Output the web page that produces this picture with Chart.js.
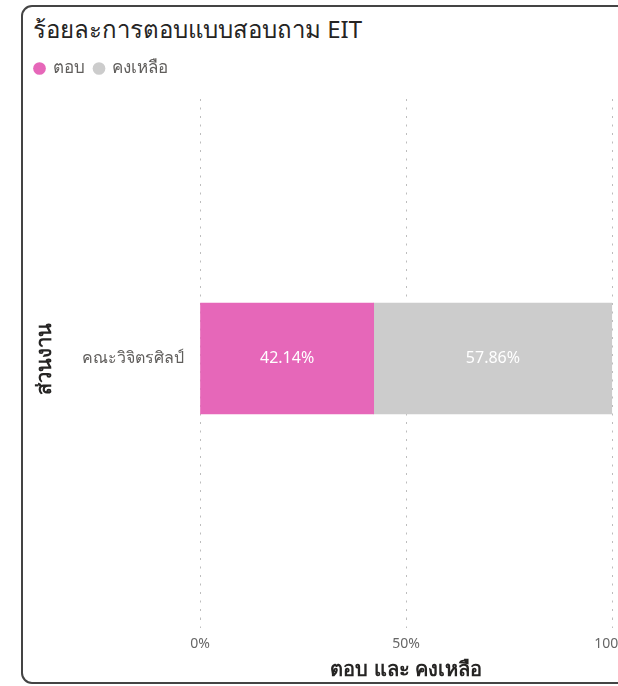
<!DOCTYPE html>
<html>
<head>
<meta charset="utf-8">
<script src="https://cdn.jsdelivr.net/npm/chart.js@4/dist/chart.umd.min.js"></script>
<style>
  html, body { margin: 0; padding: 0; background: #fff; overflow: hidden; width: 618px; height: 686px; }
  #card { position: absolute; left: 21px; top: 5px; width: 680px; height: 679px; border: 2px solid #444; border-radius: 11px; box-sizing: border-box; }
  #title { position: absolute; left: 33px; top: 13px; font-family: 'Segoe UI', Tahoma, 'Noto Sans', 'DejaVu Sans', sans-serif; font-size: 24px; line-height: 32px; color: #252423; white-space: nowrap; }
  #wrap { position: absolute; left: 0; top: 0; width: 638px; height: 686px; }
</style>
</head>
<body>
<div id="card"></div>
<div id="title">ร้อยละการตอบแบบสอบถาม EIT</div>
<div id="wrap"><canvas id="c"></canvas></div>
<script>
const categories = ['คณะวิจิตรศิลป์'];
const seriesNames = ['ตอบ', 'คงเหลือ'];
const answered = [42.14];
const remaining = [57.86];
const xTickValues = [0, 50, 100];
const seriesColors = ['#E667B9', '#CCCCCC'];
const yTitle = 'ส่วนงาน';
const xTitle = 'ตอบ และ คงเหลือ';

const FONT = "'Segoe UI', Tahoma, 'Noto Sans', 'DejaVu Sans', sans-serif";
Chart.defaults.font.family = FONT;

const legendSpace = {
  id: 'legendSpace',
  beforeInit(chart) {
    const origFit = chart.legend.fit;
    chart.legend.fit = function () {
      origFit.bind(chart.legend)();
      this.height = 49;
    };
  }
};

const barLabels = {
  id: 'barLabels',
  afterDatasetsDraw(chart) {
    const ctx = chart.ctx;
    ctx.save();
    ctx.font = "16px " + FONT;
    ctx.fillStyle = '#ffffff';
    ctx.textAlign = 'center';
    ctx.textBaseline = 'middle';
    chart.data.datasets.forEach((ds, i) => {
      const meta = chart.getDatasetMeta(i);
      meta.data.forEach((bar, j) => {
        const p = bar.getProps(['x', 'y', 'base'], true);
        ctx.fillText(ds.data[j].toFixed(2) + '%', (p.x + p.base) / 2, p.y);
      });
    });
    ctx.restore();
  }
};

new Chart(document.getElementById('c'), {
  type: 'bar',
  data: {
    labels: categories,
    datasets: [
      { label: seriesNames[0], data: answered, backgroundColor: seriesColors[0], barThickness: 111 },
      { label: seriesNames[1], data: remaining, backgroundColor: seriesColors[1], barThickness: 111 }
    ]
  },
  options: {
    indexAxis: 'y',
    responsive: true,
    maintainAspectRatio: false,
    animation: false,
    layout: { padding: { left: 25, top: 50, bottom: 0, right: 0 } },
    plugins: {
      legend: {
        align: 'start',
        labels: {
          usePointStyle: true,
          pointStyle: 'circle',
          boxWidth: 9,
          boxHeight: 9,
          padding: 10,
          color: '#605E5C',
          font: { size: 17 }
        }
      },
      tooltip: { enabled: false }
    },
    scales: {
      x: {
        stacked: true,
        min: 0,
        max: 100,
        afterBuildTicks(scale) { scale.ticks = xTickValues.map(v => ({ value: v })); },
        afterFit(scale) { scale.height = 68; },
        ticks: { callback: v => v + '%', color: '#666666', font: { size: 14 }, padding: 8 },
        grid: {
          color: '#BDBDBD', lineWidth: 1, drawTicks: true, tickLength: 10,
          tickColor: '#BDBDBD', tickWidth: 1, tickBorderDash: [2, 6.5]
        },
        border: { display: false, dash: [2, 6.5] },
        title: { display: true, text: xTitle, color: '#252423', font: { size: 20, weight: '600' }, padding: { top: 0, bottom: 4 } }
      },
      y: {
        stacked: true,
        afterFit(scale) { scale.width = 175; },
        ticks: { color: '#605E5C', font: { size: 16 }, padding: 8 },
        grid: { display: false },
        border: { display: false },
        title: { display: true, text: yTitle, color: '#252423', font: { size: 20, weight: '600' }, padding: { top: 8, bottom: 0 } }
      }
    }
  },
  plugins: [legendSpace, barLabels]
});
</script>
</body>
</html>
